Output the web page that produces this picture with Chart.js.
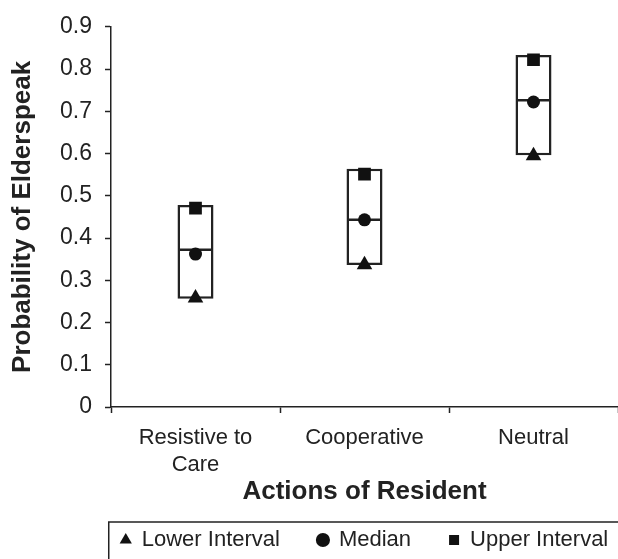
<!DOCTYPE html>
<html lang="en">
<head>
<meta charset="UTF-8">
<title>Probability of Elderspeak</title>
<style>
  html, body { margin: 0; padding: 0; background: #fff; }
  #wrap { width: 618px; height: 559px; }
</style>
</head>
<body>
<div id="wrap"><canvas id="myChart"></canvas></div>

<script src="https://cdn.jsdelivr.net/npm/chart.js"></script>
<script>
  // categories on the x axis
  const categories = [['Resistive to', 'Care'], 'Cooperative', 'Neutral'];

  // box edges and the line across each box
  const boxLow  = [0.256, 0.336, 0.596];
  const boxHigh = [0.478, 0.564, 0.833];
  const boxMid  = [0.372, 0.443, 0.726];

  // the three marker series
  const lowerInterval = [0.258, 0.337, 0.595];
  const median        = [0.362, 0.443, 0.722];
  const upperInterval = [0.471, 0.551, 0.822];

  // y axis ticks
  const yMin = 0, yMax = 0.9, yStep = 0.1;

  const ink = '#222';
  const fontName = "'Liberation Sans', Arial, Helvetica, sans-serif";

  const ctx = document.getElementById('myChart');

  // centre the legend under the plot area, and draw the frame round it
  const legendFrame = {
    id: 'legendFrame',
    afterLayout(chart) {
      const lg = chart.legend;
      const a = chart.chartArea;
      const shift = (a.left + a.right) / 2 - (lg.left + lg.right) / 2;
      lg.left += shift;
      lg.right += shift;
    },
    afterDraw(chart) {
      const hb = chart.legend.legendHitBoxes;
      if (!hb || !hb.length) return;
      const c = chart.ctx;
      const x0 = hb[0].left - 12;
      const y0 = hb[0].top - 7;
      c.save();
      c.strokeStyle = ink;
      c.lineWidth = 1.5;
      c.strokeRect(x0, y0, chart.width - x0 + 10, chart.height - y0 + 10);
      c.restore();
    }
  };

  new Chart(ctx, {
    type: 'bar',
    data: {
      labels: categories,
      datasets: [
        {
          label: 'box',
          data: boxLow.map((v, i) => [v, boxHigh[i]]),
          backgroundColor: '#fff',
          borderColor: ink,
          borderWidth: 2.5,
          borderSkipped: false,
          barPercentage: 0.213,
          categoryPercentage: 1,
          order: 3
        },
        {
          type: 'line',
          label: 'mid',
          data: boxMid,
          showLine: false,
          pointStyle: 'line',
          pointRadius: 17,
          pointBorderWidth: 2.5,
          borderColor: ink,
          backgroundColor: ink,
          order: 2
        },
        {
          type: 'line',
          label: 'Lower Interval',
          data: lowerInterval,
          showLine: false,
          pointStyle: 'triangle',
          pointRadius: 9,
          borderWidth: 0,
          pointBorderWidth: 0,
          backgroundColor: '#111',
          borderColor: '#111',
          order: 1
        },
        {
          type: 'line',
          label: 'Median',
          data: median,
          showLine: false,
          pointStyle: 'circle',
          pointRadius: 6.5,
          borderWidth: 0,
          pointBorderWidth: 0,
          backgroundColor: '#111',
          borderColor: '#111',
          order: 1
        },
        {
          type: 'line',
          label: 'Upper Interval',
          data: upperInterval,
          showLine: false,
          pointStyle: 'rect',
          pointRadius: 9,
          borderWidth: 0,
          pointBorderWidth: 0,
          backgroundColor: '#111',
          borderColor: '#111',
          order: 1
        }
      ]
    },
    options: {
      responsive: true,
      maintainAspectRatio: false,
      animation: false,
      events: [],
      layout: {
        autoPadding: false,
        padding: { top: 20, right: 0, bottom: -2, left: 0 }
      },
      plugins: {
        tooltip: { enabled: false },
        legend: {
          position: 'bottom',
          align: 'center',
          labels: {
            filter: item => item.text !== 'box' && item.text !== 'mid',
            usePointStyle: true,
            boxWidth: 10,
            boxHeight: 10,
            padding: 38,
            color: ink,
            font: { family: fontName, size: 22 }
          }
        }
      },
      scales: {
        x: {
          afterFit: s => {
            s.height = 84;
            s.paddingLeft = 0;
            s.paddingRight = 0;
          },
          grid: {
            offset: true,
            drawOnChartArea: false,
            drawTicks: true,
            tickLength: 6,
            tickWidth: 1.5,
            tickColor: ink
          },
          border: { display: true, color: ink, width: 1.5 },
          ticks: {
            color: ink,
            padding: 12,
            font: { family: fontName, size: 22 }
          },
          title: {
            display: true,
            text: 'Actions of Resident',
            color: ink,
            padding: { top: 0, bottom: -16.5 },
            font: { family: fontName, size: 26, weight: 'bold' }
          }
        },
        y: {
          min: yMin,
          max: yMax,
          afterFit: s => { s.width = 111; },
          grid: {
            drawOnChartArea: false,
            drawTicks: true,
            tickLength: 6,
            tickWidth: 1.5,
            tickColor: ink
          },
          border: { display: true, color: ink, width: 1.5 },
          ticks: {
            stepSize: yStep,
            color: ink,
            padding: 13,
            font: { family: fontName, size: 23 }
          },
          title: {
            display: true,
            text: 'Probability of Elderspeak',
            color: ink,
            padding: { top: 7, bottom: 0 },
            font: { family: fontName, size: 26, weight: 'bold' }
          }
        }
      }
    },
    plugins: [legendFrame]
  });
</script>
</body>
</html>
